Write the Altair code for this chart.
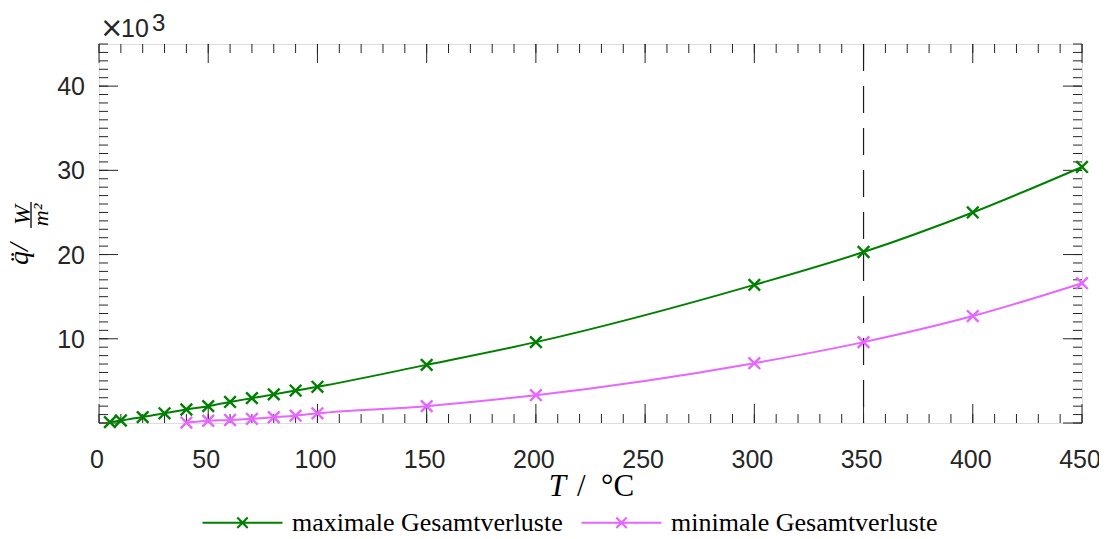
import altair as alt
import pandas as pd

# ---- data ----
T_max = [5, 10, 20, 30, 40, 50, 60, 70, 80, 90, 100, 150, 200, 300, 350, 400, 450]
q_max = [0.1, 0.3, 0.7, 1.15, 1.6, 2.0, 2.5, 2.95, 3.4, 3.85, 4.3, 6.9, 9.6, 16.4, 20.3, 25.0, 30.4]
T_min = [40, 50, 60, 70, 80, 90, 100, 150, 200, 300, 350, 400, 450]
q_min = [0.05, 0.27, 0.36, 0.5, 0.68, 0.87, 1.15, 2.0, 3.3, 7.1, 9.6, 12.7, 16.6]
series_names = ["maximale Gesamtverluste", "minimale Gesamtverluste"]
series_colors = ["#008000", "#e666ff"]
marker_T = [350]

x_major = [0, 50, 100, 150, 200, 250, 300, 350, 400, 450]
x_minor = list(range(0, 451, 10))
y_major = [0, 10, 20, 30, 40]
y_labels = [10, 20, 30, 40]
y_minor = list(range(0, 46))

W, H = 983, 379
AX = "#262626"
MAJ, MIN = 19, 9

df = pd.DataFrame(
    {"T": T_max + T_min,
     "q": q_max + q_min,
     "series": [series_names[0]] * len(T_max) + [series_names[1]] * len(T_min)}
)

xs = alt.Scale(domain=[0, 450], nice=False, zero=False)
ys = alt.Scale(domain=[0, 45], nice=False, zero=False)

LEG_SYM = "M-1,0L1,0M-0.13,-0.13L0.13,0.13M-0.13,0.13L0.13,-0.13"
MARK_SYM = "M-1,-1L1,1M-1,1L1,-1"

color = alt.Color(
    "series:N",
    scale=alt.Scale(domain=series_names, range=series_colors),
    legend=alt.Legend(
        title=None, orient="none", legendX=102, legendY=437, direction="horizontal",
        symbolType=LEG_SYM, symbolSize=6400, symbolStrokeWidth=2.2,
        symbolFillColor="transparent",
        labelFont="Liberation Serif", labelFontSize=26, labelColor="black",
        labelOffset=8, columnPadding=14, padding=0, labelLimit=600,
    ),
)

line = alt.Chart(df).mark_line(interpolate="monotone", strokeWidth=2).encode(
    x=alt.X("T:Q", scale=xs, axis=None),
    y=alt.Y("q:Q", scale=ys, axis=None),
    color=color,
)
pts = alt.Chart(df).mark_point(shape=MARK_SYM, filled=False, size=135, strokeWidth=2.4, opacity=1).encode(
    x=alt.X("T:Q", scale=xs, axis=None),
    y=alt.Y("q:Q", scale=ys, axis=None),
    color=color,
)

dash = alt.Chart(pd.DataFrame({"T": marker_T})).mark_rule(
    color="#1a1a1a", strokeWidth=1.2, strokeDash=[27, 15]
).encode(x=alt.X("T:Q", scale=xs, axis=None))


def xticks(vals, length):
    d = pd.DataFrame({"T": vals})
    b = alt.Chart(d).mark_rule(color=AX, strokeWidth=1).encode(
        x=alt.X("T:Q", scale=xs, axis=None), y=alt.value(H), y2=alt.value(H - length))
    t = alt.Chart(d).mark_rule(color=AX, strokeWidth=1).encode(
        x=alt.X("T:Q", scale=xs, axis=None), y=alt.value(0), y2=alt.value(length))
    return [b, t]


def yticks(vals, length):
    d = pd.DataFrame({"q": vals})
    l = alt.Chart(d).mark_rule(color=AX, strokeWidth=1).encode(
        y=alt.Y("q:Q", scale=ys, axis=None), x=alt.value(0), x2=alt.value(length))
    r = alt.Chart(d).mark_rule(color=AX, strokeWidth=1).encode(
        y=alt.Y("q:Q", scale=ys, axis=None), x=alt.value(W), x2=alt.value(W - length))
    return [l, r]


# tick labels (drawn through the scales)
xlab = alt.Chart(pd.DataFrame({"T": x_major})).mark_text(
    font="Liberation Sans", fontSize=25, color=AX, align="center", baseline="alphabetic", dx=-2
).encode(x=alt.X("T:Q", scale=xs, axis=None), y=alt.value(H + 45), text=alt.Text("T:Q"))
ylab = alt.Chart(pd.DataFrame({"q": y_labels})).mark_text(
    font="Liberation Sans", fontSize=25, color=AX, align="right", baseline="middle", dy=1
).encode(y=alt.Y("q:Q", scale=ys, axis=None), x=alt.value(-14), text=alt.Text("q:Q"))

one = pd.DataFrame({"a": [0]})


def txt(s, x, y, size, font="Liberation Serif", style="normal", align="left",
        baseline="alphabetic", angle=0, col="black"):
    kw = dict(text=s, font=font, fontSize=size, fontStyle=style, align=align,
              baseline=baseline, color=col)
    if angle:
        kw["angle"] = angle
    return alt.Chart(one).mark_text(**kw).encode(x=alt.value(x), y=alt.value(y))


texts = [
    txt("×", 1, -7, 28, font="DejaVu Sans", col=AX),
    txt("10", 22, -7, 25, font="Liberation Sans", col=AX),
    txt("3", 53, -13, 24, font="Liberation Sans", col=AX),
    # x title
    txt("T", 467, 452, 31, style="italic", align="right"),
    txt("/", 478, 452, 31),
    txt("°C", 502, 452, 31),
    # y title
    txt("q̈/", -71, 210, 28, style="italic", align="center", angle=270),
    txt("W", -69, 171, 24, style="italic", align="center", angle=270),
    txt("m²", -51, 171, 22, style="italic", align="center", angle=270),
]
bar = alt.Chart(one).mark_rule(color="black", strokeWidth=1.3).encode(
    x=alt.value(-68), y=alt.value(158), y2=alt.value(184))

layers = (xticks(x_major, MAJ) + xticks(x_minor, MIN) + yticks(y_major, MAJ) + yticks(y_minor, MIN)
          + [dash, line, pts, xlab, ylab] + texts + [bar])

chart = alt.layer(*layers).properties(
    width=W, height=H,
    autosize=alt.AutoSizeParams(type="none"),
    padding={"left": 91, "top": 36, "right": 17, "bottom": 108},
).configure_view(stroke=AX, strokeWidth=1.5).configure(background="white")

chart.save("out.html", embed_options={"renderer": "svg", "actions": False})
